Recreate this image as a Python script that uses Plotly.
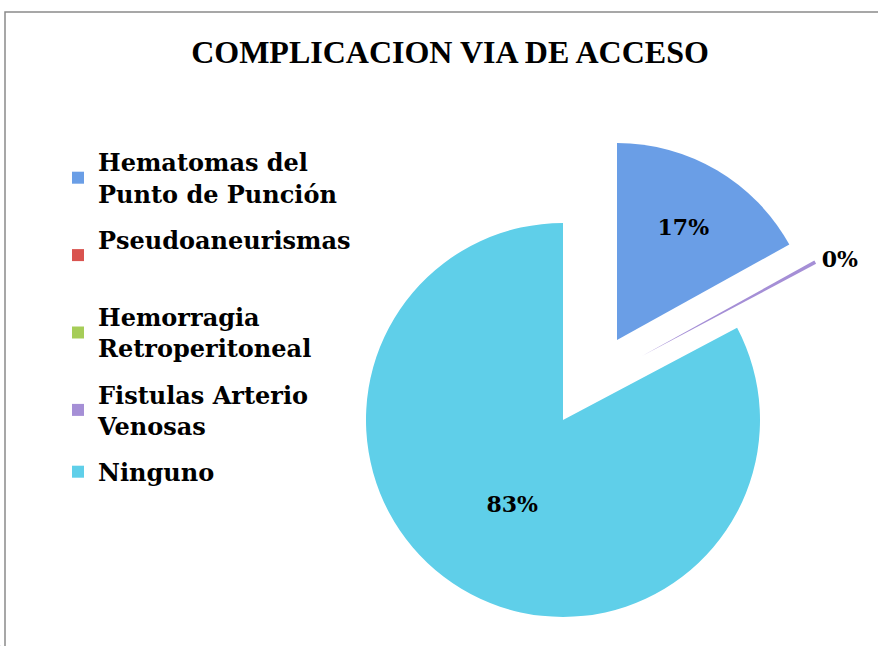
import plotly.graph_objects as go

# ---- data ----
title_text = "COMPLICACION VIA DE ACCESO"
labels = ["Hematomas del<br>Punto de Punción", "Pseudoaneurismas<br> ",
          "Hemorragia<br>Retroperitoneal", "Fistulas Arterio<br>Venosas", "Ninguno"]
values = [17, 0, 0, 0.3, 83]
colors = ["#6a9ee6", "#d9534f", "#a6cd58", "#a58fd6", "#5fcfe9"]

W, H = 878, 646
R = 197
TRANSP = "rgba(0,0,0,0)"


def dom(cx, cy, r=R):
    return dict(x=[(cx - r) / W, (cx + r) / W], y=[1 - (cy + r) / H, 1 - (cy - r) / H])


def only(idx):
    return [c if i in idx else TRANSP for i, c in enumerate(colors)]


fig = go.Figure()

tfont = dict(family="DejaVu Serif", size=22, color="black", weight="bold")

# legend carriers (tiny, one per category so entries can be spaced)
for i, (lab, col) in enumerate(zip(labels, colors)):
    fig.add_trace(go.Pie(labels=[lab], values=[1], textinfo="none",
                         marker=dict(colors=[col], line=dict(width=0)),
                         domain=dict(x=[0.0, 0.0005], y=[0.0, 0.0005]),
                         legendgroup="g%d" % i, showlegend=True, hoverinfo="skip"))

common = dict(labels=labels, values=values, sort=False, direction="clockwise",
              rotation=0, textfont=tfont, texttemplate="%{percent:.0%}",
              hoverinfo="label+percent", showlegend=False)

# main pie (Ninguno)
fig.add_trace(go.Pie(**common, marker=dict(colors=only([4]), line=dict(width=0)),
                     domain=dom(563, 420),
                     textposition=["none", "none", "none", "none", "inside"]))

# pulled Hematomas
fig.add_trace(go.Pie(**common, marker=dict(colors=only([0]), line=dict(width=0)),
                     domain=dom(617, 340),
                     textposition=["inside", "none", "none", "none", "none"]))

# pulled Fistulas
fig.add_trace(go.Pie(**common, marker=dict(colors=only([3]), line=dict(width=0)),
                     domain=dom(642, 356),
                     textposition=["none", "none", "none", "outside", "none"]))

fig.update_layout(
    width=W, height=H,
    margin=dict(l=0, r=0, t=0, b=0),
    paper_bgcolor="white",
    title=dict(text="<b>" + title_text + "</b>", x=450 / W, xanchor="center",
               y=1 - 52 / H, yanchor="middle",
               font=dict(family="Liberation Serif", size=32, color="black")),
    legend=dict(x=58 / W, y=1 - 140 / H, xanchor="left", yanchor="top",
                font=dict(family="DejaVu Serif", size=24, color="black", weight="bold"),
                itemwidth=30, tracegroupgap=12, traceorder="grouped",
                bgcolor="rgba(0,0,0,0)"),
    font=dict(family="DejaVu Serif", color="black"),
    shapes=[dict(type="rect", xref="paper", yref="paper",
                 x0=5 / W, x1=1.02, y0=-0.02, y1=1 - 12 / H,
                 line=dict(color="#8a8a8a", width=1.5), layer="below")],
)

fig.write_html("out.html", config={"displayModeBar": False},
               post_script="document.body.style.margin='0';")
